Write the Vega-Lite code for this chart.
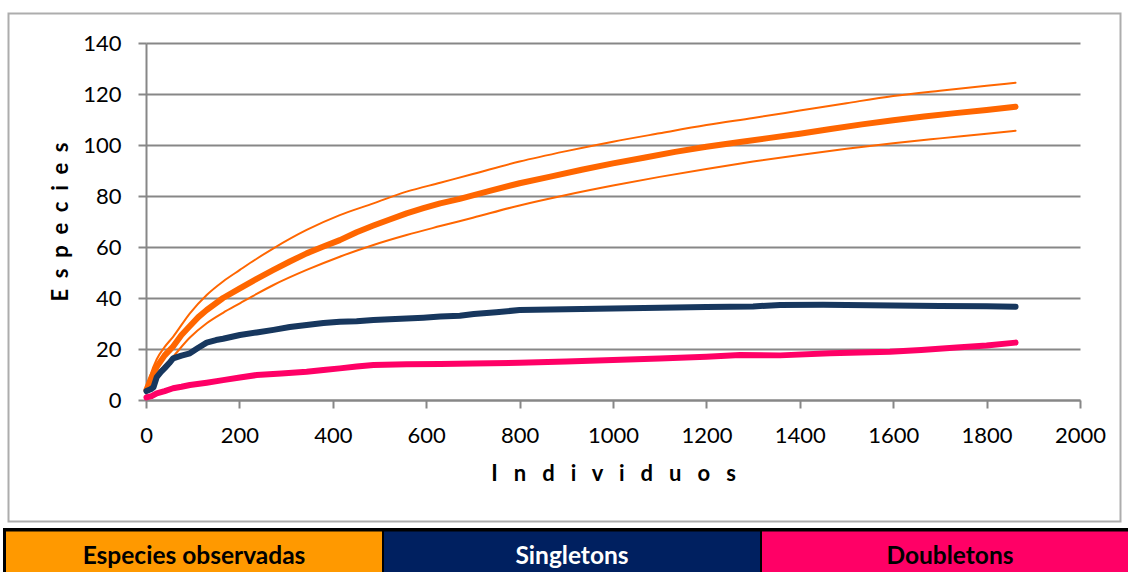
{
  "$schema": "https://vega.github.io/schema/vega-lite/v6.json",
  "width": 934,
  "height": 357,
  "autosize": {"type": "none"},
  "padding": {"left": 146, "top": 43, "right": 48, "bottom": 172},
  "background": "white",
  "config": {"view": {"stroke": null}, "font": "Lato"},
  "datasets": {
    "curvas": [
      {"serie": "Especies observadas", "n": 1, "s": 4}, {"serie": "Especies observadas", "n": 12, "s": 9}, {"serie": "Especies observadas", "n": 23, "s": 13}, {"serie": "Especies observadas", "n": 40, "s": 17.5}, {"serie": "Especies observadas", "n": 58, "s": 21}, {"serie": "Especies observadas", "n": 76, "s": 25.5}, {"serie": "Especies observadas", "n": 94, "s": 29}, {"serie": "Especies observadas", "n": 112, "s": 32.5}, {"serie": "Especies observadas", "n": 130, "s": 35.3}, {"serie": "Especies observadas", "n": 165, "s": 40}, {"serie": "Especies observadas", "n": 201, "s": 43.8}, {"serie": "Especies observadas", "n": 237, "s": 47.5}, {"serie": "Especies observadas", "n": 273, "s": 51}, {"serie": "Especies observadas", "n": 308, "s": 54.3}, {"serie": "Especies observadas", "n": 344, "s": 57.5}, {"serie": "Especies observadas", "n": 380, "s": 60.2}, {"serie": "Especies observadas", "n": 415, "s": 62.7}, {"serie": "Especies observadas", "n": 451, "s": 65.8}, {"serie": "Especies observadas", "n": 487, "s": 68.4}, {"serie": "Especies observadas", "n": 522, "s": 70.8}, {"serie": "Especies observadas", "n": 558, "s": 73.2}, {"serie": "Especies observadas", "n": 594, "s": 75.2}, {"serie": "Especies observadas", "n": 630, "s": 77.1}, {"serie": "Especies observadas", "n": 672, "s": 78.9}, {"serie": "Especies observadas", "n": 736, "s": 82}, {"serie": "Especies observadas", "n": 800, "s": 85}, {"serie": "Especies observadas", "n": 866, "s": 87.6}, {"serie": "Especies observadas", "n": 933, "s": 90.3}, {"serie": "Especies observadas", "n": 1000, "s": 92.8}, {"serie": "Especies observadas", "n": 1066, "s": 95}, {"serie": "Especies observadas", "n": 1133, "s": 97.3}, {"serie": "Especies observadas", "n": 1200, "s": 99.3}, {"serie": "Especies observadas", "n": 1272, "s": 101.2}, {"serie": "Especies observadas", "n": 1336, "s": 102.8}, {"serie": "Especies observadas", "n": 1400, "s": 104.4}, {"serie": "Especies observadas", "n": 1466, "s": 106.3}, {"serie": "Especies observadas", "n": 1533, "s": 108.1}, {"serie": "Especies observadas", "n": 1600, "s": 109.7}, {"serie": "Especies observadas", "n": 1666, "s": 111.2}, {"serie": "Especies observadas", "n": 1733, "s": 112.5}, {"serie": "Especies observadas", "n": 1800, "s": 113.7}, {"serie": "Especies observadas", "n": 1862, "s": 115},
      {"serie": "Límite superior", "n": 1, "s": 4}, {"serie": "Límite superior", "n": 10, "s": 10}, {"serie": "Límite superior", "n": 23, "s": 16}, {"serie": "Límite superior", "n": 40, "s": 20.8}, {"serie": "Límite superior", "n": 58, "s": 24.8}, {"serie": "Límite superior", "n": 94, "s": 34}, {"serie": "Límite superior", "n": 130, "s": 41.2}, {"serie": "Límite superior", "n": 165, "s": 46.5}, {"serie": "Límite superior", "n": 201, "s": 51}, {"serie": "Límite superior", "n": 237, "s": 55.4}, {"serie": "Límite superior", "n": 273, "s": 59.5}, {"serie": "Límite superior", "n": 344, "s": 66.7}, {"serie": "Límite superior", "n": 415, "s": 72.5}, {"serie": "Límite superior", "n": 487, "s": 77.1}, {"serie": "Límite superior", "n": 558, "s": 81.7}, {"serie": "Límite superior", "n": 630, "s": 85.2}, {"serie": "Límite superior", "n": 700, "s": 88.6}, {"serie": "Límite superior", "n": 800, "s": 93.5}, {"serie": "Límite superior", "n": 900, "s": 97.6}, {"serie": "Límite superior", "n": 1000, "s": 101.3}, {"serie": "Límite superior", "n": 1100, "s": 104.6}, {"serie": "Límite superior", "n": 1200, "s": 107.8}, {"serie": "Límite superior", "n": 1300, "s": 110.6}, {"serie": "Límite superior", "n": 1400, "s": 113.5}, {"serie": "Límite superior", "n": 1500, "s": 116.4}, {"serie": "Límite superior", "n": 1600, "s": 119.2}, {"serie": "Límite superior", "n": 1700, "s": 121.3}, {"serie": "Límite superior", "n": 1800, "s": 123.2}, {"serie": "Límite superior", "n": 1862, "s": 124.4},
      {"serie": "Límite inferior", "n": 1, "s": 4}, {"serie": "Límite inferior", "n": 23, "s": 10}, {"serie": "Límite inferior", "n": 58, "s": 17}, {"serie": "Límite inferior", "n": 94, "s": 24.5}, {"serie": "Límite inferior", "n": 130, "s": 30.1}, {"serie": "Límite inferior", "n": 165, "s": 34.2}, {"serie": "Límite inferior", "n": 201, "s": 37.9}, {"serie": "Límite inferior", "n": 237, "s": 41.6}, {"serie": "Límite inferior", "n": 273, "s": 45.1}, {"serie": "Límite inferior", "n": 344, "s": 51}, {"serie": "Límite inferior", "n": 415, "s": 56.2}, {"serie": "Límite inferior", "n": 487, "s": 60.8}, {"serie": "Límite inferior", "n": 558, "s": 64.7}, {"serie": "Límite inferior", "n": 630, "s": 68.2}, {"serie": "Límite inferior", "n": 700, "s": 71.5}, {"serie": "Límite inferior", "n": 800, "s": 76.3}, {"serie": "Límite inferior", "n": 900, "s": 80.4}, {"serie": "Límite inferior", "n": 1000, "s": 84.1}, {"serie": "Límite inferior", "n": 1100, "s": 87.5}, {"serie": "Límite inferior", "n": 1200, "s": 90.6}, {"serie": "Límite inferior", "n": 1300, "s": 93.5}, {"serie": "Límite inferior", "n": 1400, "s": 96.1}, {"serie": "Límite inferior", "n": 1500, "s": 98.5}, {"serie": "Límite inferior", "n": 1600, "s": 100.7}, {"serie": "Límite inferior", "n": 1700, "s": 102.6}, {"serie": "Límite inferior", "n": 1800, "s": 104.4}, {"serie": "Límite inferior", "n": 1862, "s": 105.6},
      {"serie": "Singletons", "n": 1, "s": 3.5}, {"serie": "Singletons", "n": 10, "s": 4.2}, {"serie": "Singletons", "n": 16, "s": 5}, {"serie": "Singletons", "n": 23, "s": 9}, {"serie": "Singletons", "n": 32, "s": 11}, {"serie": "Singletons", "n": 40, "s": 12.5}, {"serie": "Singletons", "n": 50, "s": 14.5}, {"serie": "Singletons", "n": 58, "s": 16.3}, {"serie": "Singletons", "n": 76, "s": 17.4}, {"serie": "Singletons", "n": 94, "s": 18.3}, {"serie": "Singletons", "n": 112, "s": 20.5}, {"serie": "Singletons", "n": 130, "s": 22.5}, {"serie": "Singletons", "n": 150, "s": 23.5}, {"serie": "Singletons", "n": 165, "s": 24}, {"serie": "Singletons", "n": 201, "s": 25.5}, {"serie": "Singletons", "n": 237, "s": 26.5}, {"serie": "Singletons", "n": 273, "s": 27.5}, {"serie": "Singletons", "n": 308, "s": 28.6}, {"serie": "Singletons", "n": 344, "s": 29.4}, {"serie": "Singletons", "n": 380, "s": 30.2}, {"serie": "Singletons", "n": 415, "s": 30.7}, {"serie": "Singletons", "n": 451, "s": 30.9}, {"serie": "Singletons", "n": 487, "s": 31.4}, {"serie": "Singletons", "n": 522, "s": 31.7}, {"serie": "Singletons", "n": 558, "s": 32}, {"serie": "Singletons", "n": 594, "s": 32.3}, {"serie": "Singletons", "n": 630, "s": 32.7}, {"serie": "Singletons", "n": 672, "s": 33}, {"serie": "Singletons", "n": 702, "s": 33.7}, {"serie": "Singletons", "n": 750, "s": 34.4}, {"serie": "Singletons", "n": 800, "s": 35.3}, {"serie": "Singletons", "n": 900, "s": 35.6}, {"serie": "Singletons", "n": 1000, "s": 35.9}, {"serie": "Singletons", "n": 1100, "s": 36.2}, {"serie": "Singletons", "n": 1200, "s": 36.5}, {"serie": "Singletons", "n": 1300, "s": 36.7}, {"serie": "Singletons", "n": 1358, "s": 37.3}, {"serie": "Singletons", "n": 1450, "s": 37.4}, {"serie": "Singletons", "n": 1500, "s": 37.3}, {"serie": "Singletons", "n": 1600, "s": 37.1}, {"serie": "Singletons", "n": 1700, "s": 36.9}, {"serie": "Singletons", "n": 1800, "s": 36.8}, {"serie": "Singletons", "n": 1862, "s": 36.6},
      {"serie": "Doubletons", "n": 1, "s": 1}, {"serie": "Doubletons", "n": 12, "s": 1.5}, {"serie": "Doubletons", "n": 23, "s": 2.6}, {"serie": "Doubletons", "n": 40, "s": 3.5}, {"serie": "Doubletons", "n": 58, "s": 4.6}, {"serie": "Doubletons", "n": 76, "s": 5.2}, {"serie": "Doubletons", "n": 94, "s": 5.9}, {"serie": "Doubletons", "n": 130, "s": 6.8}, {"serie": "Doubletons", "n": 165, "s": 7.8}, {"serie": "Doubletons", "n": 201, "s": 8.8}, {"serie": "Doubletons", "n": 237, "s": 9.8}, {"serie": "Doubletons", "n": 290, "s": 10.4}, {"serie": "Doubletons", "n": 344, "s": 11.1}, {"serie": "Doubletons", "n": 380, "s": 11.8}, {"serie": "Doubletons", "n": 415, "s": 12.4}, {"serie": "Doubletons", "n": 451, "s": 13.1}, {"serie": "Doubletons", "n": 487, "s": 13.7}, {"serie": "Doubletons", "n": 558, "s": 14}, {"serie": "Doubletons", "n": 630, "s": 14.1}, {"serie": "Doubletons", "n": 700, "s": 14.3}, {"serie": "Doubletons", "n": 800, "s": 14.6}, {"serie": "Doubletons", "n": 900, "s": 15.1}, {"serie": "Doubletons", "n": 1000, "s": 15.7}, {"serie": "Doubletons", "n": 1100, "s": 16.3}, {"serie": "Doubletons", "n": 1200, "s": 17}, {"serie": "Doubletons", "n": 1272, "s": 17.6}, {"serie": "Doubletons", "n": 1358, "s": 17.5}, {"serie": "Doubletons", "n": 1465, "s": 18.3}, {"serie": "Doubletons", "n": 1593, "s": 18.9}, {"serie": "Doubletons", "n": 1660, "s": 19.6}, {"serie": "Doubletons", "n": 1736, "s": 20.6}, {"serie": "Doubletons", "n": 1800, "s": 21.4}, {"serie": "Doubletons", "n": 1862, "s": 22.5}
    ],
    "leyenda": [
      {"etiqueta": "Especies observadas"},
      {"etiqueta": "Singletons"},
      {"etiqueta": "Doubletons"}
    ],
    "marco": [{"m": "borde"}]
  },
  "layer": [
    {
      "data": {"name": "curvas"},
      "transform": [{"filter": "datum.serie == 'Límite superior' || datum.serie == 'Límite inferior'"}],
      "mark": {"type": "line", "interpolate": "monotone", "strokeWidth": 2, "color": "#FF6600", "strokeCap": "round"},
      "encoding": {
        "x": {
          "field": "n", "type": "quantitative",
          "scale": {"domain": [0, 2000], "nice": false},
          "axis": {
            "values": [0, 200, 400, 600, 800, 1000, 1200, 1400, 1600, 1800, 2000],
            "format": "d",
            "title": "I\u00a0\u00a0\u00a0n\u00a0\u00a0\u00a0d\u00a0\u00a0\u00a0i\u00a0\u00a0\u00a0v\u00a0\u00a0\u00a0i\u00a0\u00a0\u00a0d\u00a0\u00a0\u00a0u\u00a0\u00a0\u00a0o\u00a0\u00a0\u00a0s",
            "titleFont": "Lato", "titleFontSize": 22, "titleFontWeight": "bold", "titleColor": "#000000", "titlePadding": 17,
            "labelFont": "Lato", "labelFontSize": 22, "labelColor": "#000000", "labelPadding": 17, "labelFlush": false, "labelOverlap": false,
            "tickSize": 8, "tickColor": "#878787", "tickWidth": 2,
            "domainColor": "#878787", "domainWidth": 2, "grid": false
          }
        },
        "y": {
          "field": "s", "type": "quantitative",
          "scale": {"domain": [0, 140], "nice": false},
          "axis": {
            "values": [0, 20, 40, 60, 80, 100, 120, 140],
            "format": "d",
            "title": "E\u00a0\u00a0s\u00a0\u00a0p\u00a0\u00a0e\u00a0\u00a0c\u00a0\u00a0i\u00a0\u00a0e\u00a0\u00a0s",
            "titleFont": "Lato", "titleFontSize": 22, "titleFontWeight": "bold", "titleColor": "#000000", "titlePadding": 10,
            "labelFont": "Lato", "labelFontSize": 22, "labelColor": "#000000", "labelPadding": 17, "labelFlush": false, "labelOverlap": false,
            "tickSize": 8, "tickColor": "#878787", "tickWidth": 2,
            "domainColor": "#878787", "domainWidth": 2,
            "grid": true, "gridColor": "#878787", "gridWidth": 2
          }
        },
        "detail": {"field": "serie", "type": "nominal"}
      }
    },
    {
      "data": {"name": "curvas"},
      "transform": [{"filter": "datum.serie != 'Límite superior' && datum.serie != 'Límite inferior'"}],
      "mark": {"type": "line", "strokeWidth": 6, "strokeCap": "round", "strokeJoin": "round"},
      "encoding": {
        "x": {"field": "n", "type": "quantitative"},
        "y": {"field": "s", "type": "quantitative"},
        "color": {
          "field": "serie", "type": "nominal",
          "scale": {"domain": ["Doubletons", "Singletons", "Especies observadas"], "range": ["#FF0066", "#17375E", "#FF6600"]},
          "legend": null
        }
      }
    },
    {
      "data": {"name": "leyenda"},
      "mark": {"type": "point", "filled": true, "opacity": 0, "shape": "M-1,-0.1383H1V0.1383H-1Z", "strokeWidth": 0},
      "encoding": {
        "fill": {
          "field": "etiqueta", "type": "nominal",
          "scale": {"domain": ["Especies observadas", "Singletons", "Doubletons"], "range": ["#FF9900", "#002060", "#FF0066"]},
          "legend": {
            "title": null, "orient": "none", "legendX": -143, "legendY": 485,
            "direction": "horizontal", "columns": 3, "columnPadding": 2, "gridAlign": "all", "padding": 3,
            "fillColor": "#000000",
            "symbolType": "M-1,-0.1383H1V0.1383H-1Z", "symbolSize": 141376,
            "symbolStrokeColor": "transparent", "symbolStrokeWidth": 0, "symbolOpacity": 1,
            "labelOffset": -188, "labelAlign": "center", "labelFont": "Lato", "labelFontSize": 24.5, "labelFontWeight": "bold", "labelLimit": 500, "labelColor": "#000000",
            "encode": {
              "symbols": {"update": {"opacity": {"value": 1}, "y": {"value": 26}}},
              "labels": {"update": {"y": {"value": 26}, "fill": {"signal": "datum.label == 'Singletons' ? '#ffffff' : '#000000'"}}}
            }
          }
        }
      }
    },
    {
      "data": {"name": "marco"},
      "mark": {"type": "point", "filled": false, "opacity": 0, "color": "#ADADAD", "strokeWidth": 2},
      "encoding": {
        "shape": {
          "field": "m", "type": "nominal",
          "scale": {"range": ["M-1,-0.45683H1V0.45683H-1Z"]},
          "legend": {
            "title": null, "orient": "none", "legendX": -138.5, "legendY": -332.5, "padding": 0,
            "direction": "vertical",
            "symbolSize": 1236544, "symbolStrokeColor": "#ADADAD", "symbolStrokeWidth": 2, "symbolFillColor": "transparent", "symbolOpacity": 1,
            "labelExpr": "''", "labelFontSize": 1
          }
        }
      }
    }
  ]
}
